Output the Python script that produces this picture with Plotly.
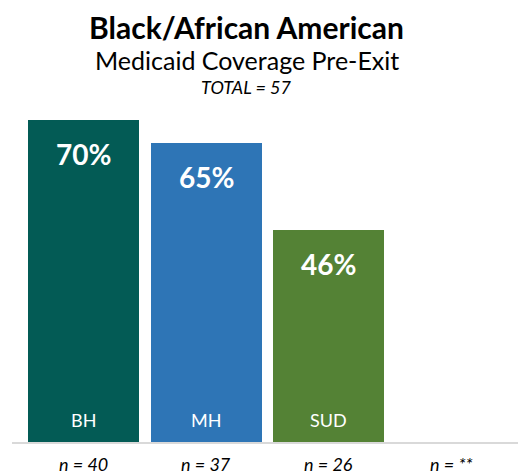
import plotly.graph_objects as go

categories = ["BH", "MH", "SUD", "NA"]
values = [70, 65, 46, None]
value_labels = ["70%", "65%", "46%", ""]
bar_labels = ["BH", "MH", "SUD", ""]
n_labels = ["n = 40", "n = 37", "n = 26", "n = **"]
colors = ["#035B55", "#2E75B6", "#548235", "#FFFFFF"]

FONT = "Lato"

fig = go.Figure()
fig.add_trace(go.Bar(
    x=categories, y=[v if v is not None else 0 for v in values],
    marker=dict(color=colors, line=dict(width=0)),
    width=0.905, hoverinfo="skip", showlegend=False,
))

anns = []
for c, v, vl, bl, nl in zip(categories, values, value_labels, bar_labels, n_labels):
    if v is not None:
        anns.append(dict(x=c, y=v, xref="x", yref="y", text=f"<b>{vl}</b>", showarrow=False,
                         yshift=-34, yanchor="middle",
                         font=dict(family=FONT, size=28, color="white")))
        anns.append(dict(x=c, y=0, xref="x", yref="y", text=bl, showarrow=False,
                         yshift=22, yanchor="middle",
                         font=dict(family=FONT, size=18, color="white")))
    anns.append(dict(x=c, y=0, xref="x", yref="y", text=f"<i>{nl}</i>", showarrow=False,
                     yshift=-22, yanchor="middle",
                     font=dict(family=FONT, size=18, color="black")))

anns += [
    dict(x=0.457, y=1.203, xref="paper", yref="paper", text="<b>Black/African American</b>",
         showarrow=False, yanchor="middle", font=dict(family=FONT, size=30, color="black")),
    dict(x=0.457, y=1.107, xref="paper", yref="paper", text="Medicaid Coverage Pre-Exit",
         showarrow=False, yanchor="middle", font=dict(family=FONT, size=25, color="black")),
    dict(x=0.457, y=1.030, xref="paper", yref="paper", text="<i>TOTAL = 57</i>",
         showarrow=False, yanchor="middle", font=dict(family=FONT, size=18, color="black")),
]

fig.update_layout(
    width=518, height=467,
    margin=dict(l=4, r=0, t=89, b=33),
    paper_bgcolor="white", plot_bgcolor="white",
    annotations=anns,
    xaxis=dict(range=[-0.583, 3.606], showticklabels=False, showgrid=False, zeroline=False,
               showline=True, linecolor="#D9D9D9", linewidth=2, ticks=""),
    yaxis=dict(range=[0, 75], visible=False, showgrid=False, zeroline=False),
    bargap=0,
)

fig.write_html("out.html")
